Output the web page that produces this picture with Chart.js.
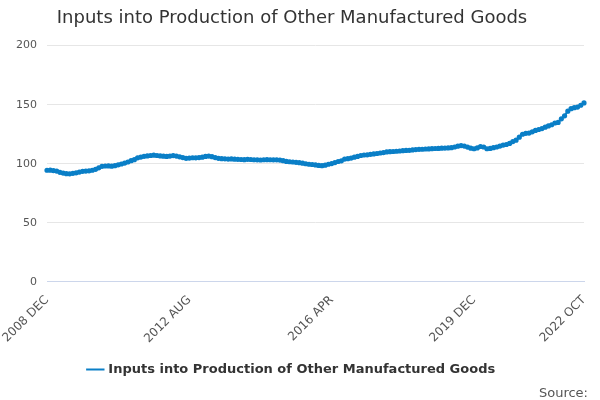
<!DOCTYPE html>
<html>
<head>
<meta charset="utf-8">
<script src="https://cdn.jsdelivr.net/npm/chart.js@4"></script>
<style>
  body { margin: 0; background: #fff; }
  #wrap { width: 600px; height: 400px; position: relative; }
</style>
</head>
<body>
<div id="wrap"><canvas id="chart"></canvas></div>
<script>
const seriesName = "Inputs into Production of Other Manufactured Goods";
const startYear = 2008, startMonth = 11; // DEC
const monthNames = ["JAN","FEB","MAR","APR","MAY","JUN","JUL","AUG","SEP","OCT","NOV","DEC"];
const shownTicks = ["2008 DEC", "2012 AUG", "2016 APR", "2019 DEC", "2022 OCT"];
const yTicks = [0, 50, 100, 150, 200];

const values = [
  94.5,94.6,94.2,93.8,92.8,92.1,91.6,91.5,91.9,92.3,93.0,93.6,
  93.8,94.0,94.5,95.3,96.6,97.8,98.1,98.2,98.0,98.4,99.1,99.8,
  100.6,101.5,102.6,103.5,105.0,105.7,106.3,106.6,107.0,107.3,107.0,106.6,
  106.4,106.2,106.5,106.9,106.5,105.9,105.2,104.6,104.8,105.1,105.0,105.2,
  105.6,106.2,106.5,106.0,105.2,104.6,104.3,104.2,104.0,104.1,103.9,103.8,
  103.6,103.5,103.8,103.6,103.4,103.3,103.2,103.4,103.5,103.4,103.3,103.3,
  103.1,102.6,102.0,101.7,101.5,101.2,100.9,100.5,100.0,99.6,99.4,99.0,
  98.6,98.4,98.8,99.6,100.2,101.0,101.9,102.5,104.0,104.3,104.8,105.6,
  106.2,107.0,107.4,107.6,108.0,108.3,108.7,109.1,109.5,110.0,110.2,110.4,
  110.6,110.8,111.1,111.3,111.4,111.7,112.0,112.2,112.3,112.5,112.6,112.8,
  112.9,113.0,113.2,113.3,113.4,113.6,114.2,114.9,115.4,115.0,114.1,113.2,
  112.7,113.4,114.6,114.2,112.7,113.0,113.6,114.2,115.0,115.8,116.3,117.2,
  118.8,120.0,122.5,125.0,125.8,126.0,127.0,128.2,129.0,129.8,131.0,132.0,
  133.0,134.5,135.0,138.0,140.6,144.5,146.6,147.5,148.0,149.5,151.5
];

const labels = values.map((v, i) => {
  const m = startMonth + i;
  return (startYear + Math.floor(m / 12)) + " " + monthNames[m % 12];
});

const sourcePlugin = {
  id: "source",
  afterDraw(chart) {
    const c = chart.ctx;
    c.save();
    c.font = "13px 'DejaVu Sans'";
    c.fillStyle = "#555";
    c.textAlign = "right";
    c.fillText("Source:", 588, 394);
    c.restore();
  }
};

Chart.defaults.font.family = "'DejaVu Sans', sans-serif";

new Chart(document.getElementById("chart"), {
  type: "line",
  data: {
    labels: labels,
    datasets: [{
      label: seriesName,
      data: values,
      borderColor: "#0a7fc7",
      backgroundColor: "#0a7fc7",
      borderWidth: 2,
      pointRadius: 1.6,
      pointHoverRadius: 3,
      tension: 0
    }]
  },
  options: {
    responsive: true,
    maintainAspectRatio: false,
    animation: false,
    layout: { padding: { left: 0, right: 16, top: 0, bottom: 14 } },
    plugins: {
      title: {
        display: true,
        text: seriesName,
        color: "#333",
        font: { size: 18, weight: "normal" },
        padding: { top: 8, bottom: 16 }
      },
      legend: {
        position: "bottom",
        labels: {
          color: "#333",
          font: { size: 13, weight: "bold" },
          usePointStyle: true,
          pointStyle: "line",
          boxWidth: 18,
          padding: 14
        }
      },
      tooltip: { enabled: false }
    },
    scales: {
      x: {
        grid: { display: false, drawTicks: true },
        border: { color: "#ccd6eb" },
        ticks: {
          color: "#555",
          font: { size: 12 },
          maxRotation: 45,
          minRotation: 45,
          autoSkip: false,
          callback: function (val) {
            const l = this.getLabelForValue(val);
            return shownTicks.includes(l) ? l : null;
          }
        }
      },
      y: {
        min: 0,
        max: 200,
        afterFit: s => { s.width = 47; },
        afterBuildTicks: s => { s.ticks = yTicks.map(v => ({ value: v })); },
        grid: { color: "#e6e6e6", drawTicks: false },
        border: { display: false },
        ticks: { color: "#555", font: { size: 11 }, padding: 10 }
      }
    }
  },
  plugins: [sourcePlugin]
});
</script>
</body>
</html>
